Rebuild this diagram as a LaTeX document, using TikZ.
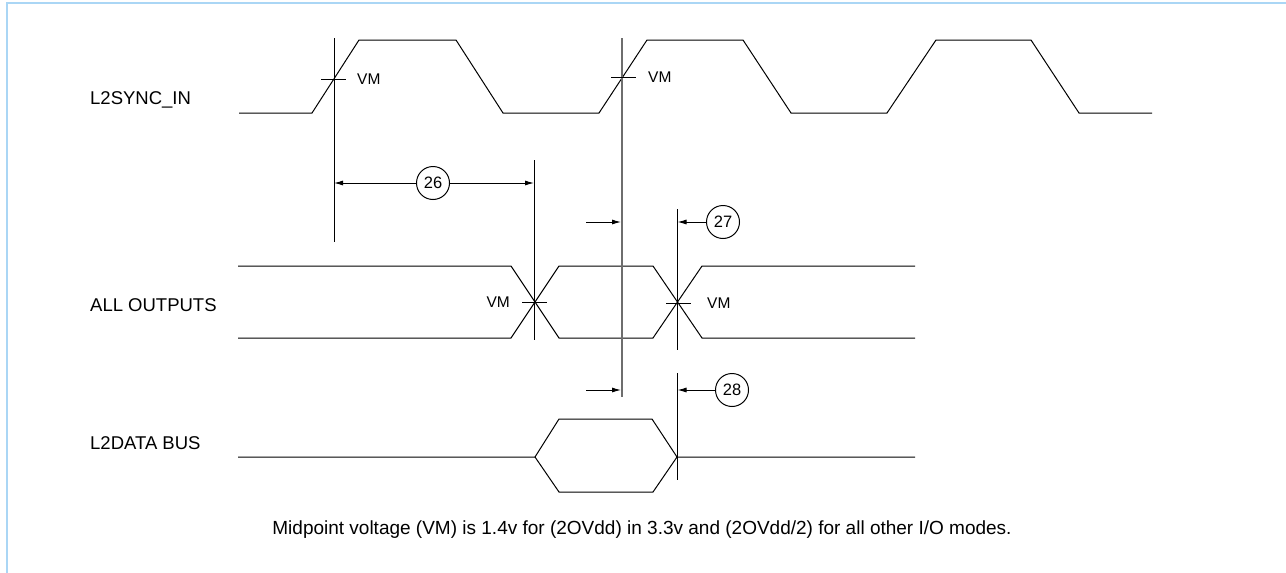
\documentclass[tikz,border=0pt]{standalone}
\usepackage{fontspec}
\setmainfont{Liberation Sans}
\usetikzlibrary{arrows.meta}
\definecolor{frameblue}{RGB}{170,214,245}
\definecolor{refgray}{RGB}{110,110,110}
\begin{document}
\begin{tikzpicture}[x=1pt,y=-1pt,
  wave/.style={line width=1pt, black, line join=miter},
  refline/.style={line width=1pt, black},
  greyline/.style={line width=1.6pt, refgray},
  tick/.style={line width=1pt, black},
  dim/.style={line width=1pt, black, -{Latex[length=9pt,width=5pt]}},
  sig/.style={anchor=west, font=\fontsize{18.5}{21}\selectfont, inner sep=0pt},
  vm/.style={font=\fontsize{15.5}{17}\selectfont, inner sep=0pt},
  num/.style={circle, draw, line width=1pt, minimum size=33pt, inner sep=0pt, font=\fontsize{16.5}{18}\selectfont},
  note/.style={font=\fontsize{19}{21}\selectfont, inner sep=0pt}]
\useasboundingbox (0,0) rectangle (1286,573);
% frame
\draw[frameblue, line width=2pt] (7,573) -- (7,3) -- (1286,3);

% signal names
\node[sig] (lsync) at (90,100) {L2SYNC\_IN};
\node[sig] (lout) at (90,305) {ALL OUTPUTS};
\node[sig] (ldata) at (90,443) {L2DATA BUS};

% L2SYNC_IN clock
\draw[wave] (239,113) -- (312,113) -- (359,40) -- (456,40) -- (503,113) -- (599,113) -- (647,40) -- (743,40) -- (791,113) -- (887,113) -- (936,40) -- (1031,40) -- (1079,113) -- (1152,113);

% ALL OUTPUTS
\draw[wave] (238,266) -- (511,266) -- (559,338) -- (653,338) -- (702,266) -- (915,266);
\draw[wave] (238,338) -- (511,338) -- (559,266) -- (653,266) -- (702,338) -- (915,338);

% L2DATA BUS
\draw[wave] (238,457) -- (535,457) -- (559,419) -- (652,419) -- (677,457) -- (915,457);
\draw[wave] (535,457) -- (559,492) -- (653,492) -- (677,457);

% reference lines
\coordinate (r1t) at (334,38);  \coordinate (r1b) at (334,242);
\coordinate (r2t) at (534,160); \coordinate (r2b) at (534,340);
\coordinate (r3t) at (622,38);  \coordinate (r3b) at (622,397);
\coordinate (r4t) at (677,209); \coordinate (r4b) at (677,350);
\coordinate (r5t) at (677,373); \coordinate (r5b) at (677,480);
\draw[refline] (r1t) -- (r1b);
\draw[refline] (r2t) -- (r2b);
\draw[greyline] (r3t) -- (r3b);
\draw[refline] (r4t) -- (r4b);
\draw[refline] (r5t) -- (r5b);

% VM ticks and labels
\draw[tick] (321,79) -- (346,79);
\node[vm, anchor=west] (vm1) at (357,79) {VM};
\draw[tick] (611,77) -- (636,77);
\node[vm, anchor=west] (vm2) at (648,77) {VM};
\draw[tick] (522,302) -- (547,302);
\node[vm, anchor=east] (vm3) at (510,302) {VM};
\draw[tick] (666,303) -- (691,303);
\node[vm, anchor=west] (vm4) at (707,303) {VM};

% timing 26
\node[num] (n26) at (433,183) {26};
\draw[dim] (n26.west) -- (334,183);
\draw[dim] (n26.east) -- (534,183);

% timing 27
\node[num] (n27) at (723,222) {27};
\coordinate (a27) at (586,222);
\draw[dim] (a27) -- (621,222);
\draw[dim] (n27.west) -- (677.5,222);

% timing 28
\node[num] (n28) at (732,390) {28};
\coordinate (a28) at (586,390);
\draw[dim] (a28) -- (621,390);
\draw[dim] (n28.west) -- (677.5,390);

% note
\node[note] (fn) at (642,530) {Midpoint voltage (VM) is 1.4v for (2OVdd) in 3.3v and (2OVdd/2) for all other I/O modes.};
\end{tikzpicture}
\end{document}
